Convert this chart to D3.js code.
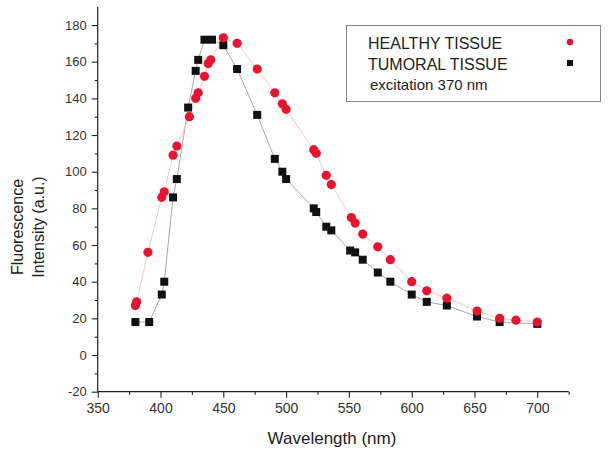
<!DOCTYPE html>
<html>
<head>
<meta charset="utf-8">
<script src="https://cdn.jsdelivr.net/npm/d3@7/dist/d3.min.js"></script>
<style>
  html, body { margin: 0; padding: 0; background: #fff; }
  svg { display: block; font-family: Arial, "Liberation Sans", sans-serif; }
</style>
</head>
<body>
<svg id="chart" width="613" height="452"></svg>
<script>
// Fluorescence emission spectra, excitation at 370 nm
const healthyWavelength = [380, 381, 390, 401, 403, 410, 413, 423, 428, 430, 435, 438, 440, 450, 461, 477, 491, 497, 500, 522, 524, 532, 536, 552, 555, 561, 573, 583, 600, 612, 628, 652, 670, 683, 700];
const healthyIntensity  = [27, 29, 56, 86, 89, 109, 114, 130, 140, 143, 152, 159, 161, 173, 170, 156, 143, 137, 134, 112, 110, 98, 93, 75, 72, 66, 59, 52, 40, 35, 31, 24, 20, 19, 18];

const tumoralWavelength = [380, 391, 401, 403, 410, 413, 422, 428, 430, 435, 441, 450, 461, 477, 491, 497, 500, 522, 524, 532, 536, 551, 555, 561, 573, 583, 600, 612, 628, 652, 670, 700];
const tumoralIntensity  = [18, 18, 33, 40, 86, 96, 135, 155, 161, 172, 172, 169, 156, 131, 107, 100, 96, 80, 78, 70, 68, 57, 56, 52, 45, 40, 33, 29, 27, 21, 18, 17];

const xTicks = [350, 400, 450, 500, 550, 600, 650, 700];
const xMinorTicks = [375, 425, 475, 525, 575, 625, 675, 725];
const yTicks = [-20, 0, 20, 40, 60, 80, 100, 120, 140, 160, 180];
const yMinorTicks = [-10, 10, 30, 50, 70, 90, 110, 130, 150, 170];

const legendLabels = ["HEALTHY TISSUE", "TUMORAL TISSUE"];
const legendNote = "excitation 370 nm";
const xTitle = "Wavelength (nm)";
const yTitleLines = ["Fluorescence", "Intensity (a.u.)"];

const svg = d3.select("#chart");

const x = d3.scaleLinear().domain([350, 725]).range([97.7, 568.7]);
const y = d3.scaleLinear().domain([-20, 190]).range([391.7, 6.7]);

const axisColor = "#222";
const textColor = "#333";
const plainNumber = d => String(d);

// Axes: major ticks with labels, minor ticks without
const xAxis = svg.append("g").attr("transform", `translate(0,${y(-20)})`)
  .call(d3.axisBottom(x).tickValues(xTicks).tickSize(6).tickPadding(5).tickFormat(plainNumber));
svg.append("g").attr("transform", `translate(0,${y(-20)})`)
  .call(d3.axisBottom(x).tickValues(xMinorTicks).tickSize(3).tickFormat(""))
  .select(".domain").remove();

const yAxis = svg.append("g").attr("transform", `translate(${x(350)},0)`)
  .call(d3.axisLeft(y).tickValues(yTicks).tickSize(6).tickPadding(5).tickFormat(plainNumber));
svg.append("g").attr("transform", `translate(${x(350)},0)`)
  .call(d3.axisLeft(y).tickValues(yMinorTicks).tickSize(3).tickFormat(""))
  .select(".domain").remove();

svg.selectAll(".domain").attr("stroke", axisColor).attr("stroke-width", 1.2);
svg.selectAll(".tick line").attr("stroke", axisColor).attr("stroke-width", 1.1);
xAxis.selectAll("text").attr("fill", textColor).style("font-size", "14px");
yAxis.selectAll("text").attr("fill", textColor).style("font-size", "13px");
// Axis domain ends exactly at data limits (no outer ticks)
xAxis.select(".domain").attr("d", `M${x(350)},0H${x(725)}`);
yAxis.select(".domain").attr("d", `M0,${y(-20)}V${y(190)}`);

// Axis titles
svg.append("text")
  .attr("x", 332).attr("y", 444)
  .attr("text-anchor", "middle")
  .attr("fill", "#222")
  .style("font-size", "17px")
  .text(xTitle);

svg.append("g")
  .attr("transform", "translate(0,227) rotate(-90)")
  .selectAll("text")
  .data(yTitleLines)
  .join("text")
  .attr("x", 0)
  .attr("y", (d, i) => 23 + i * 21)
  .attr("text-anchor", "middle")
  .attr("fill", "#222")
  .style("font-size", "16px")
  .text(d => d);

// Series data
const healthy = healthyWavelength.map((w, i) => ({ w, v: healthyIntensity[i] }));
const tumoral = tumoralWavelength.map((w, i) => ({ w, v: tumoralIntensity[i] }));

const line = d3.line().x(d => x(d.w)).y(d => y(d.v));

svg.append("path")
  .datum(tumoral)
  .attr("fill", "none")
  .attr("stroke", "#a8a8a8")
  .attr("stroke-width", 1)
  .attr("d", line);

svg.append("path")
  .datum(healthy)
  .attr("fill", "none")
  .attr("stroke", "#f4c8c8")
  .attr("stroke-width", 1)
  .attr("d", line);

const sq = 8;
svg.append("g").selectAll("rect")
  .data(tumoral)
  .join("rect")
  .attr("x", d => x(d.w) - sq / 2)
  .attr("y", d => y(d.v) - sq / 2)
  .attr("width", sq).attr("height", sq)
  .attr("fill", "#111");

svg.append("g").selectAll("circle")
  .data(healthy)
  .join("circle")
  .attr("cx", d => x(d.w))
  .attr("cy", d => y(d.v))
  .attr("r", 4.6)
  .attr("fill", "#e8132f");

// Legend
const legend = svg.append("g");
legend.append("rect")
  .attr("x", 346.5).attr("y", 25.5)
  .attr("width", 254).attr("height", 76)
  .attr("fill", "#fff")
  .attr("stroke", "#888")
  .attr("stroke-width", 1);

legend.selectAll("text.lab")
  .data(legendLabels)
  .join("text")
  .attr("class", "lab")
  .attr("x", 368)
  .attr("y", (d, i) => 48.5 + i * 21)
  .attr("fill", "#222")
  .style("font-size", "16px")
  .text(d => d);

legend.append("text")
  .attr("x", 370).attr("y", 90)
  .attr("fill", "#222")
  .style("font-size", "15px")
  .text(legendNote);

legend.append("circle").attr("cx", 570).attr("cy", 42).attr("r", 3.2).attr("fill", "#e8132f");
legend.append("rect").attr("x", 567).attr("y", 60).attr("width", 6).attr("height", 6).attr("fill", "#111");
</script>
</body>
</html>
